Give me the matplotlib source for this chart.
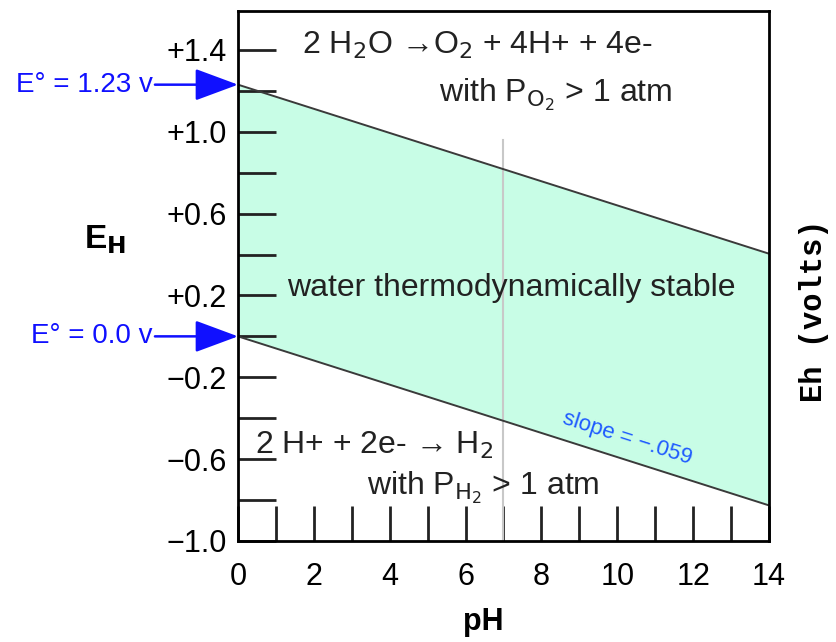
import matplotlib
matplotlib.use("Agg")
import matplotlib.pyplot as plt
import numpy as np

# Data
ph = [0, 14]
e_o2 = [1.23, 1.23 - 0.059 * 14]   # upper boundary
e_h2 = [0.0, -0.059 * 14]          # lower boundary
x_major = [0, 2, 4, 6, 8, 10, 12, 14]
x_minor = list(range(0, 15))
y_major = [1.4, 1.0, 0.6, 0.2, -0.2, -0.6, -1.0]
y_major_labels = ["+1.4", "+1.0", "+0.6", "+0.2", "\u22120.2", "\u22120.6", "\u22121.0"]
y_minor = [round(-1.0 + 0.2 * i, 1) for i in range(13)]
neutral_ph = 7
neutral_top = 0.96

plt.rcParams['font.family'] = ['Liberation Sans', 'DejaVu Sans']

fig = plt.figure(figsize=(8.36, 6.42), dpi=100)
ax = fig.add_axes([238/836, 1 - 541/642, (769-238)/836, (541-11)/642])
ax.set_xlim(0, 14)
ax.set_ylim(-1.0, 1.59)

ax.fill_between(ph, e_h2, e_o2, color='#c8fde6', lw=0, zorder=1)
ax.plot(ph, e_o2, color='#3a3a3a', lw=1.4, zorder=3)
ax.plot(ph, e_h2, color='#3a3a3a', lw=1.4, zorder=3)
ax.plot([neutral_ph, neutral_ph], [-1.0, neutral_top],
        color='#c8c8c8', lw=1.5, zorder=2)

for s in ax.spines.values():
    s.set_linewidth(2)
    s.set_zorder(5)

ax.set_xticks(x_major)
ax.set_xticklabels([str(v) for v in x_major], fontsize=22)
ax.set_xticks(x_minor, minor=True)
ax.set_yticks(y_major)
ax.set_yticklabels(y_major_labels, fontsize=22)
ax.set_yticks(y_minor, minor=True)
ax.tick_params(axis='both', which='both', direction='in', width=2, color='#222222')
ax.tick_params(axis='x', which='both', length=25, pad=15)
ax.tick_params(axis='y', which='both', length=27, pad=8)

tk = dict(fontsize=23, color='#222222', zorder=6)
ax.text(6.3, 1.42, "2 H$_2$O \u2192O$_2$ + 4H+ + 4e-", ha='center', va='center', **tk)
ax.text(8.37, 1.18, "with P$_{\\mathrm{O_2}}$ > 1 atm", ha='center', va='center', **tk)
ax.text(7.2, 0.237, "water thermodynamically stable", ha='center', va='center', **tk)
ax.text(3.6, -0.53, "2 H+ + 2e- \u2192 H$_2$", ha='center', va='center', **tk)
ax.text(6.46, -0.74, "with P$_{\\mathrm{H_2}}$ > 1 atm", ha='center', va='center', **tk)
ax.text(10.27, -0.50, "slope = \u2212.059", ha='center', va='center', fontsize=16,
        color='#1e5aff', rotation=-17.7, zorder=6)

# blue arrows
for e, lab in [(1.23, "E\u00b0 = 1.23 v"), (0.0, "E\u00b0 = 0.0 v")]:
    ax.annotate("", xy=(0, e), xytext=(-2.19, e),
                arrowprops=dict(arrowstyle='-|>,head_length=2.7,head_width=1.0',
                                color='#1010ff', lw=1.8, shrinkA=0, shrinkB=0),
                annotation_clip=False, zorder=7)
    ax.text(-2.25, e, lab, ha='right', va='center', fontsize=20, color='#1010ff',
            clip_on=False)

fig.text(105/836, 1 - 240/642, "E$_\\mathbf{H}$", ha='center', va='center',
         fontsize=24, fontweight='bold')
fig.text(483/836, 1 - 622/642, "pH", ha='center', va='center', fontsize=22,
         fontweight='bold')
fig.text(814/836, 1 - 311/642, "Eh (volts)", ha='center', va='center', rotation=90,
         fontsize=22, fontweight='bold', family='Liberation Mono')

fig.savefig("out.png", dpi=100)
